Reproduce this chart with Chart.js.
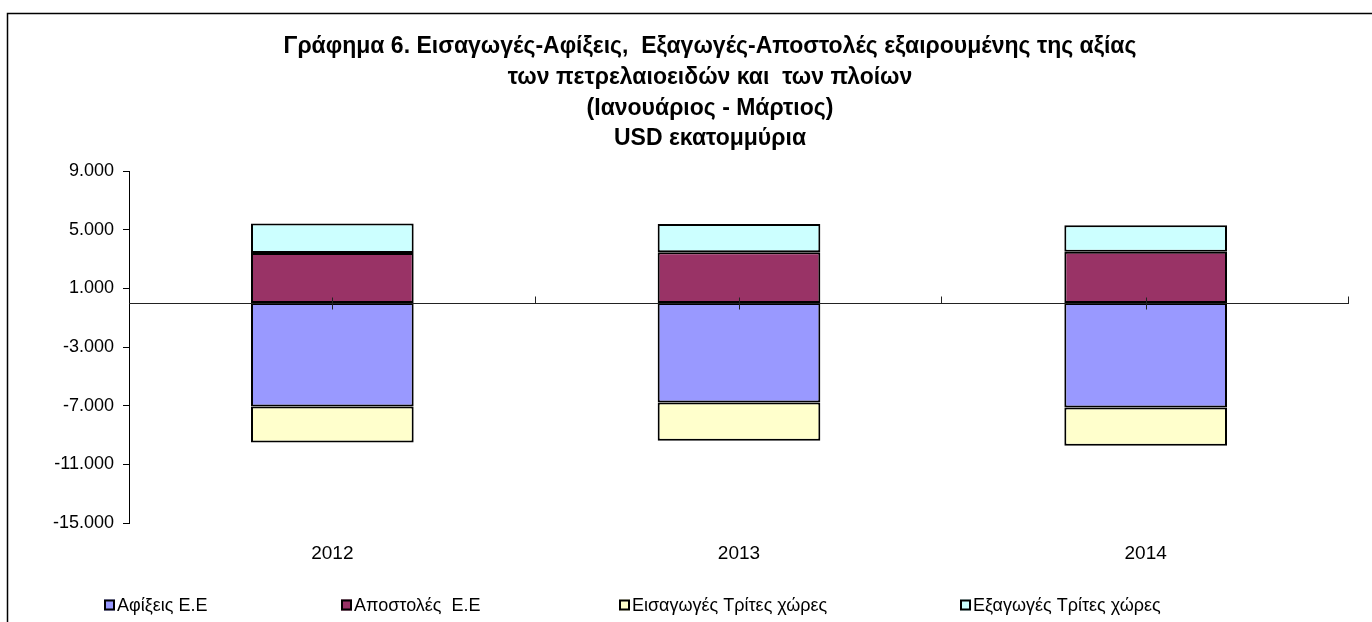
<!DOCTYPE html>
<html>
<head>
<meta charset="utf-8">
<script src="https://cdn.jsdelivr.net/npm/chart.js@4"></script>
<style>
  html, body { margin: 0; padding: 0; background: #fff; }
  #wrap { position: absolute; left: 0; top: 0; width: 1372px; height: 622px; }
</style>
</head>
<body>
<div id="wrap"><canvas id="c" width="1372" height="622"></canvas></div>
<script>
const categories = ['2012', '2013', '2014'];
const arrivalsEU = [-7045, -6770, -7110];      // Αφίξεις Ε.Ε
const dispatchesEU = [3420, 3470, 3490];       // Αποστολές Ε.Ε
const importsThird = [-2460, -2620, -2620];    // Εισαγωγές Τρίτες χώρες
const exportsThird = [2010, 1915, 1805];       // Εξαγωγές Τρίτες χώρες
const yTicks = [-15000, -11000, -7000, -3000, 1000, 5000, 9000];
const titleLines = [
  'Γράφημα 6. Εισαγωγές-Αφίξεις,  Εξαγωγές-Αποστολές εξαιρουμένης της αξίας',
  'των πετρελαιοειδών και  των πλοίων',
  '(Ιανουάριος - Μάρτιος)',
  'USD εκατομμύρια'
];

const FONT = 'Liberation Sans, Arial, sans-serif';
const TITLE_LAYOUT = { cx: 710, y0: 47, step: 30.7, size: 23 };
const LEGEND_LAYOUT = { y: 605, size: 18, box: 11, starts: [104, 341, 619, 960] };

function fmt(v) {
  const neg = v < 0;
  let s = String(Math.abs(Math.round(v)));
  s = s.replace(/\B(?=(\d{3})+(?!\d))/g, '.');
  return (neg ? '-' : '') + s;
}

const framePlugin = {
  id: 'frame',
  beforeDraw(chart) {
    const ctx = chart.ctx;
    ctx.save();
    ctx.fillStyle = '#fff';
    ctx.fillRect(0, 0, chart.width, chart.height);
    ctx.strokeStyle = '#000';
    ctx.lineWidth = 1.5;
    ctx.beginPath();
    ctx.moveTo(7.5, 630);
    ctx.lineTo(7.5, 13.5);
    ctx.lineTo(1372, 13.5);
    ctx.stroke();
    ctx.restore();
  },
  afterDraw(chart) {
    const ctx = chart.ctx;
    ctx.save();
    ctx.fillStyle = '#000';
    ctx.font = 'bold ' + TITLE_LAYOUT.size + 'px ' + FONT;
    ctx.textAlign = 'center';
    ctx.textBaseline = 'middle';
    titleLines.forEach((t, i) => ctx.fillText(t, TITLE_LAYOUT.cx, TITLE_LAYOUT.y0 + i * TITLE_LAYOUT.step));
    ctx.restore();
  }
};

const zeroAxisPlugin = {
  id: 'zeroAxis',
  afterDatasetsDraw(chart) {
    const ctx = chart.ctx;
    const x = chart.scales.x, y = chart.scales.y;
    const y0 = Math.round(y.getPixelForValue(0)) + 0.5;
    const left = chart.chartArea.left, right = chart.chartArea.right;
    ctx.save();
    ctx.strokeStyle = '#222';
    ctx.lineWidth = 1;
    ctx.beginPath();
    ctx.moveTo(left, y0);
    ctx.lineTo(right, y0);
    const n = categories.length;
    const w = (right - left) / n;
    for (let i = 1; i <= n; i++) {
      const bx = Math.round(left + i * w) - 0.5;
      ctx.moveTo(bx, y0);
      ctx.lineTo(bx, y0 - 7);
    }
    for (let i = 0; i < n; i++) {
      const cx = Math.round(x.getPixelForValue(i)) + 0.5;
      ctx.moveTo(cx, y0 - 6);
      ctx.lineTo(cx, y0 + 6);
    }
    ctx.stroke();
    ctx.restore();
  }
};

// legend drawn from the chart's own datasets (labels + colours)
const legendPlugin = {
  id: 'customLegend',
  afterDraw(chart) {
    const ctx = chart.ctx;
    const L = LEGEND_LAYOUT;
    ctx.save();
    ctx.font = L.size + 'px ' + FONT;
    ctx.textBaseline = 'middle';
    chart.data.datasets.forEach((d, i) => {
      const x = L.starts[i];
      ctx.fillStyle = d.backgroundColor;
      ctx.fillRect(x, L.y - L.box / 2, L.box, L.box);
      ctx.strokeStyle = '#000';
      ctx.lineWidth = 2;
      ctx.strokeRect(x + 1, L.y - L.box / 2 + 1, L.box - 2, L.box - 2);
      ctx.fillStyle = '#000';
      ctx.fillText(d.label, x + L.box + 2, L.y + 1);
    });
    ctx.restore();
  }
};

const common = { borderColor: '#000', borderWidth: 2, borderSkipped: false,
                 barPercentage: 0.4, categoryPercentage: 1.0 };

new Chart(document.getElementById('c'), {
  type: 'bar',
  data: {
    labels: categories,
    datasets: [
      Object.assign({ label: 'Αφίξεις Ε.Ε', data: arrivalsEU, backgroundColor: '#9999FF' }, common),
      Object.assign({ label: 'Αποστολές  Ε.Ε', data: dispatchesEU, backgroundColor: '#993366' }, common),
      Object.assign({ label: 'Εισαγωγές Τρίτες χώρες', data: importsThird, backgroundColor: '#FFFFCC' }, common),
      Object.assign({ label: 'Εξαγωγές Τρίτες χώρες', data: exportsThird, backgroundColor: '#CCFFFF' }, common)
    ]
  },
  options: {
    responsive: false,
    animation: false,
    layout: { padding: { left: 8, right: 23, top: 171, bottom: 46 } },
    plugins: {
      tooltip: { enabled: false },
      legend: { display: false },
      title: { display: false }
    },
    scales: {
      x: {
        stacked: true,
        grid: { display: false },
        border: { display: false },
        ticks: { color: '#000', padding: 11, font: { family: FONT, size: 19 } }
      },
      y: {
        stacked: true,
        min: -15000,
        max: 9000,
        afterBuildTicks(scale) { scale.ticks = yTicks.map(v => ({ value: v })); },
        afterFit(scale) { scale.width = 121; },
        grid: { drawOnChartArea: false, drawTicks: true, tickLength: 6, color: '#000' },
        border: { display: true, color: '#000', width: 1 },
        ticks: {
          color: '#000',
          padding: 9,
          font: { family: FONT, size: 18 },
          callback: (v) => fmt(v)
        }
      }
    }
  },
  plugins: [framePlugin, zeroAxisPlugin, legendPlugin]
});
</script>
</body>
</html>
